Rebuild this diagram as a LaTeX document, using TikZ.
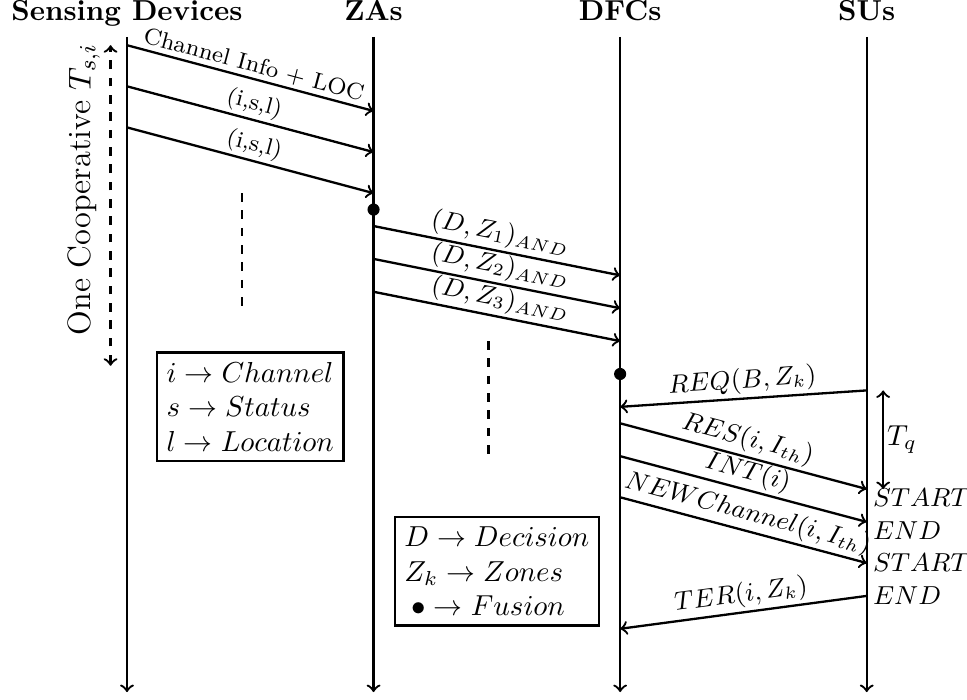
\documentclass[tikz,border=0pt]{standalone}
\usepackage{amsmath}
\begin{document}
\begin{tikzpicture}[
        head/.style={font=\bfseries, anchor=base},
        life/.style={thick,->},
        msg/.style={thick,->},
        back/.style={thick,<-},
        lbl/.style={midway, above, sloped, inner sep=1pt, font=\small},
        txt/.style={midway, above, sloped, inner sep=1pt, font=\footnotesize},
        legend/.style={draw, thick, align=left},
        fus/.style={fill, circle, inner sep=0pt, minimum size=4.2pt},
        tag/.style={right, inner sep=2pt, font=\small}]
        \useasboundingbox (-1.545,0.45) rectangle (10.22,-8.066);
        \foreach \name/\x/\title in {sd/0/Sensing Devices, za/3/ZAs, dfc/6/DFCs, su/9/SUs}{
            \node[head] (\name) at (\x,0.2) {\title};
            \coordinate (\name-top) at (\x,0);
            \coordinate (\name-bot) at (\x,-7.97);
            \draw[life] (\name-top) -- (\name-bot);
        }
        \foreach \i/\ya/\yb/\lab in {1/0.1/0.9/Channel Info + LOC, 2/0.6/1.4/{(i,s,l)}, 3/1.1/1.9/{(i,s,l)}}{
            \coordinate (sd-\i) at (0,-\ya);
            \coordinate (za-\i) at (3,-\yb);
            \draw[msg] (sd-\i) -- (za-\i) node[txt] {\lab};
        }
        \node[fus] (za-fus) at (3,-2.1) {};
        \foreach \i/\ya/\yb in {1/2.3/2.9, 2/2.7/3.3, 3/3.1/3.7}{
            \coordinate (za-out\i) at (3,-\ya);
            \coordinate (dfc-in\i) at (6,-\yb);
            \draw[msg] (za-out\i) -- (dfc-in\i) node[lbl] {$(D,Z_\i)_{AND}$};
        }
        \node[fus] (dfc-fus) at (6,-4.1) {};
        \coordinate (su-req) at (9,-4.3);
        \coordinate (dfc-req) at (6,-4.5);
        \coordinate (dfc-res) at (6,-4.7);
        \coordinate (su-res) at (9,-5.5);
        \coordinate (dfc-int) at (6,-5.1);
        \coordinate (su-int) at (9,-5.9);
        \coordinate (dfc-new) at (6,-5.6);
        \coordinate (su-new) at (9,-6.4);
        \coordinate (su-ter) at (9,-6.8);
        \coordinate (dfc-ter) at (6,-7.2);
        \draw[back] (dfc-req) -- (su-req) node[lbl] {$REQ(B,Z_k)$};
        \draw[msg] (dfc-res) -- (su-res) node[lbl] {$RES(i,I_{th})$};
        \draw[msg] (dfc-int) -- (su-int) node[lbl] {$INT(i)$};
        \draw[msg] (dfc-new) -- (su-new) node[lbl] {$NEWChannel(i,I_{th})$};
        \draw[back] (dfc-ter) -- (su-ter) node[lbl] {$TER(i,Z_k)$};
        \node[tag] (start1) at (9,-5.6) {$START$};
        \node[tag] (end1) at (9,-6.0) {$END$};
        \node[tag] (start2) at (9,-6.4) {$START$};
        \node[tag] (end2) at (9,-6.8) {$END$};
        \coordinate (tq-top) at (9.2,-4.3);
        \coordinate (tq-bot) at (9.2,-5.5);
        \draw[thick,<->] (tq-top) -- (tq-bot) node[midway, right, inner sep=1pt] {$T_q$};
        \coordinate (coop-top) at (-0.2,-0.1);
        \coordinate (coop-bot) at (-0.2,-4.0);
        \draw[thick,dashed,<->] (coop-bot) -- (coop-top) node[pos=0.55, above, sloped, font=\fontsize{11.2}{13}\selectfont] {One Cooperative $T_{s,i}$};
        \coordinate (gap1-a) at (1.4,-1.9);
        \coordinate (gap1-b) at (1.4,-3.3);
        \draw[thick,dashed] (gap1-a) -- (gap1-b);
        \coordinate (gap2-a) at (4.4,-3.7);
        \coordinate (gap2-b) at (4.4,-5.1);
        \draw[thick,dashed] (gap2-a) -- (gap2-b);
        \node[legend] (key1) at (1.5,-4.5) {$i\rightarrow Channel$\\$s\rightarrow Status$\\$l\rightarrow Location$};
        \node[legend] (key2) at (4.5,-6.5) {$D\rightarrow Decision$\\$Z_k\rightarrow Zones$\\\hspace{2.5pt}$\bullet\rightarrow Fusion$};
\end{tikzpicture}
\end{document}
